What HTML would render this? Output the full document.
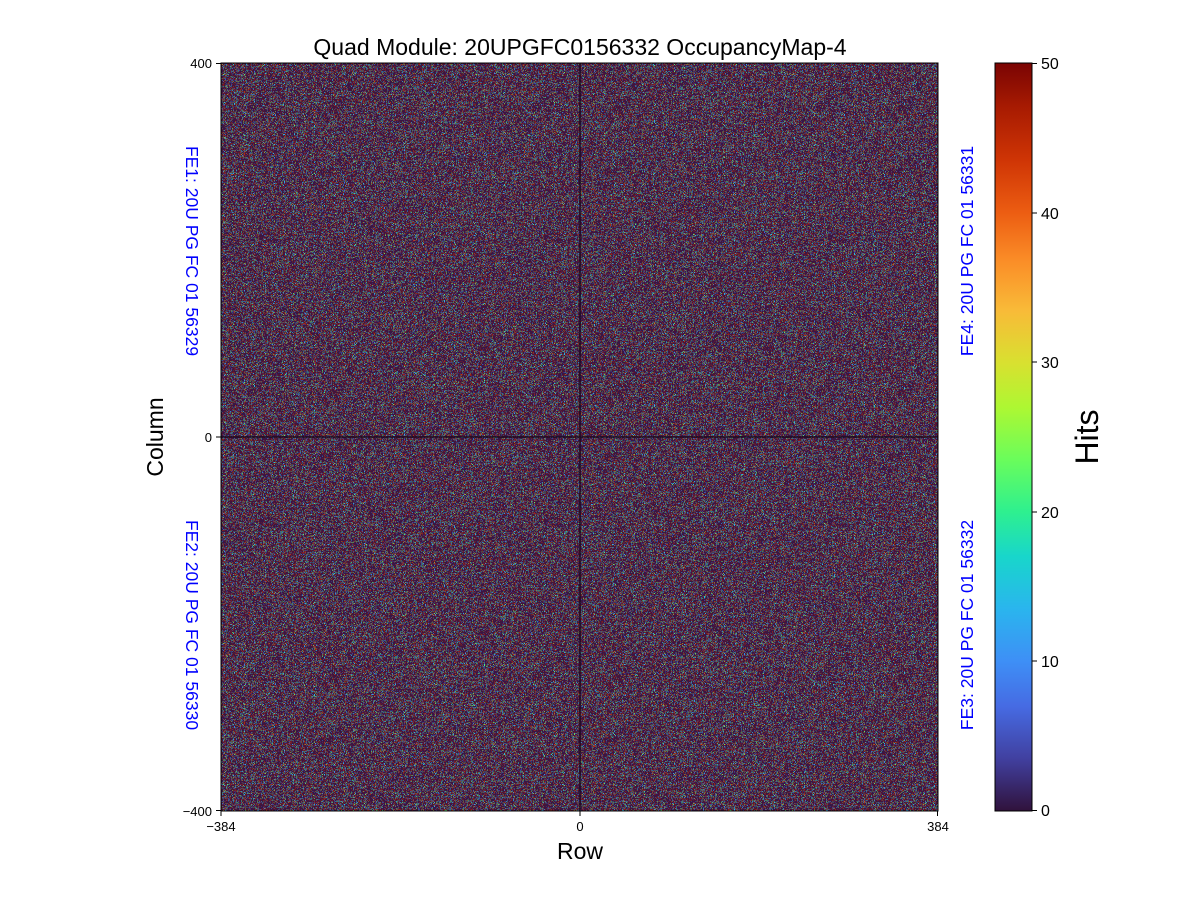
<!DOCTYPE html>
<html><head><meta charset="utf-8"><style>
html,body{margin:0;padding:0;background:#fff;}
svg{display:block;font-family:"Liberation Sans","DejaVu Sans",sans-serif;}
</style></head><body>
<svg width="1200" height="900" viewBox="0 0 1200 900" xmlns="http://www.w3.org/2000/svg">
<defs>
<linearGradient id="cb" x1="0" y1="1" x2="0" y2="0">
<stop offset="0" stop-color="#30123b"/>
<stop offset="0.07" stop-color="#4140a0"/>
<stop offset="0.14" stop-color="#466be3"/>
<stop offset="0.2" stop-color="#3e8ff6"/>
<stop offset="0.27" stop-color="#2ab5ee"/>
<stop offset="0.34" stop-color="#18d6cb"/>
<stop offset="0.4" stop-color="#2ef08f"/>
<stop offset="0.47" stop-color="#6afd5b"/>
<stop offset="0.54" stop-color="#aef732"/>
<stop offset="0.6" stop-color="#d9e030"/>
<stop offset="0.67" stop-color="#f9ba38"/>
<stop offset="0.74" stop-color="#fa8a26"/>
<stop offset="0.8" stop-color="#ec5d12"/>
<stop offset="0.87" stop-color="#cf3505"/>
<stop offset="0.94" stop-color="#a81b02"/>
<stop offset="1" stop-color="#7a0403"/>
</linearGradient>
<filter id="nz" x="0" y="0" width="100%" height="100%" color-interpolation-filters="sRGB">
<feTurbulence type="fractalNoise" baseFrequency="0.9" numOctaves="1" seed="3" result="t"/>
<feColorMatrix in="t" type="matrix" values="1 0 0 0 0  1 0 0 0 0  1 0 0 0 0  0 0 0 0 1" result="g"/>
<feComponentTransfer in="g" result="s">
<feFuncR type="linear" slope="2.5" intercept="-0.75"/>
<feFuncG type="linear" slope="2.5" intercept="-0.75"/>
<feFuncB type="linear" slope="2.5" intercept="-0.75"/>
</feComponentTransfer>
<feComponentTransfer in="s">
<feFuncR type="discrete" tableValues="0.19 0.25 0.69 0.23 0.23 0.23 0.23 0.23 0.23 0.48 0.80 0.35"/>
<feFuncG type="discrete" tableValues="0.72 0.41 0.13 0.09 0.09 0.09 0.09 0.09 0.09 0.06 0.25 0.90"/>
<feFuncB type="discrete" tableValues="0.88 0.88 0.06 0.27 0.27 0.27 0.27 0.27 0.27 0.06 0.05 0.45"/>
</feComponentTransfer>
</filter>
</defs>
<text x="580" y="55" font-size="23" text-anchor="middle">Quad Module: 20UPGFC0156332 OccupancyMap-4</text>
<rect x="221" y="63" width="717" height="748" fill="#3a1846"/>
<rect x="221" y="63" width="717" height="748" filter="url(#nz)"/>
<line x1="580" y1="63" x2="580" y2="811" stroke="#200a20" stroke-width="1.5"/>
<line x1="221" y1="437" x2="938" y2="437" stroke="#200a20" stroke-width="1.5"/>
<rect x="221" y="63" width="717" height="748" fill="none" stroke="#000" stroke-width="1"/>
<g stroke="#000" stroke-width="1">
<line x1="216" y1="63.5" x2="221" y2="63.5"/><line x1="216" y1="437" x2="221" y2="437"/><line x1="216" y1="810.5" x2="221" y2="810.5"/>
<line x1="221" y1="811" x2="221" y2="816"/><line x1="580" y1="811" x2="580" y2="816"/><line x1="937.5" y1="811" x2="937.5" y2="816"/>
</g>
<g stroke="#000" stroke-width="0.8" id="minor"></g>
<script>
var g=document.getElementById('minor'),s='';
for(var i=1;i<40;i++){if(i==20)continue;var y=63+i*748/40;s+='<line x1="218" y1="'+y+'" x2="221" y2="'+y+'"/>';}
for(var i=1;i<48;i++){if(i==24)continue;var x=221+i*717/48;s+='<line x1="'+x+'" y1="811" x2="'+x+'" y2="814"/>';}
g.innerHTML=s;
</script>
<g font-size="13" text-anchor="end">
<text x="212" y="68">400</text><text x="212" y="442">0</text><text x="212" y="816">−400</text>
</g>
<g font-size="13" text-anchor="middle">
<text x="221" y="831">−384</text><text x="580" y="831">0</text><text x="938" y="831">384</text>
</g>
<text x="580" y="859" font-size="23" text-anchor="middle">Row</text>
<text transform="translate(163,437) rotate(-90)" font-size="23" text-anchor="middle">Column</text>
<g font-size="17.5" fill="#0000ff" text-anchor="middle">
<text transform="translate(186,251) rotate(90)">FE1: 20U PG FC 01 56329</text>
<text transform="translate(186,625) rotate(90)">FE2: 20U PG FC 01 56330</text>
<text transform="translate(973,251) rotate(-90)">FE4: 20U PG FC 01 56331</text>
<text transform="translate(973,625) rotate(-90)">FE3: 20U PG FC 01 56332</text>
</g>
<rect x="995" y="63" width="37" height="748" fill="url(#cb)" stroke="#000" stroke-width="1"/>
<g stroke="#000"><line x1="1032" y1="63.5" x2="1037" y2="63.5"/><line x1="1032" y1="213" x2="1037" y2="213"/><line x1="1032" y1="362" x2="1037" y2="362"/><line x1="1032" y1="512" x2="1037" y2="512"/><line x1="1032" y1="661" x2="1037" y2="661"/><line x1="1032" y1="810.5" x2="1037" y2="810.5"/></g>
<g font-size="16">
<text x="1041" y="69">50</text><text x="1041" y="219">40</text><text x="1041" y="368">30</text><text x="1041" y="518">20</text><text x="1041" y="667">10</text><text x="1041" y="816">0</text>
</g>
<text transform="translate(1098,437) rotate(-90)" font-size="32" text-anchor="middle">Hits</text>
</svg>
</body></html>
